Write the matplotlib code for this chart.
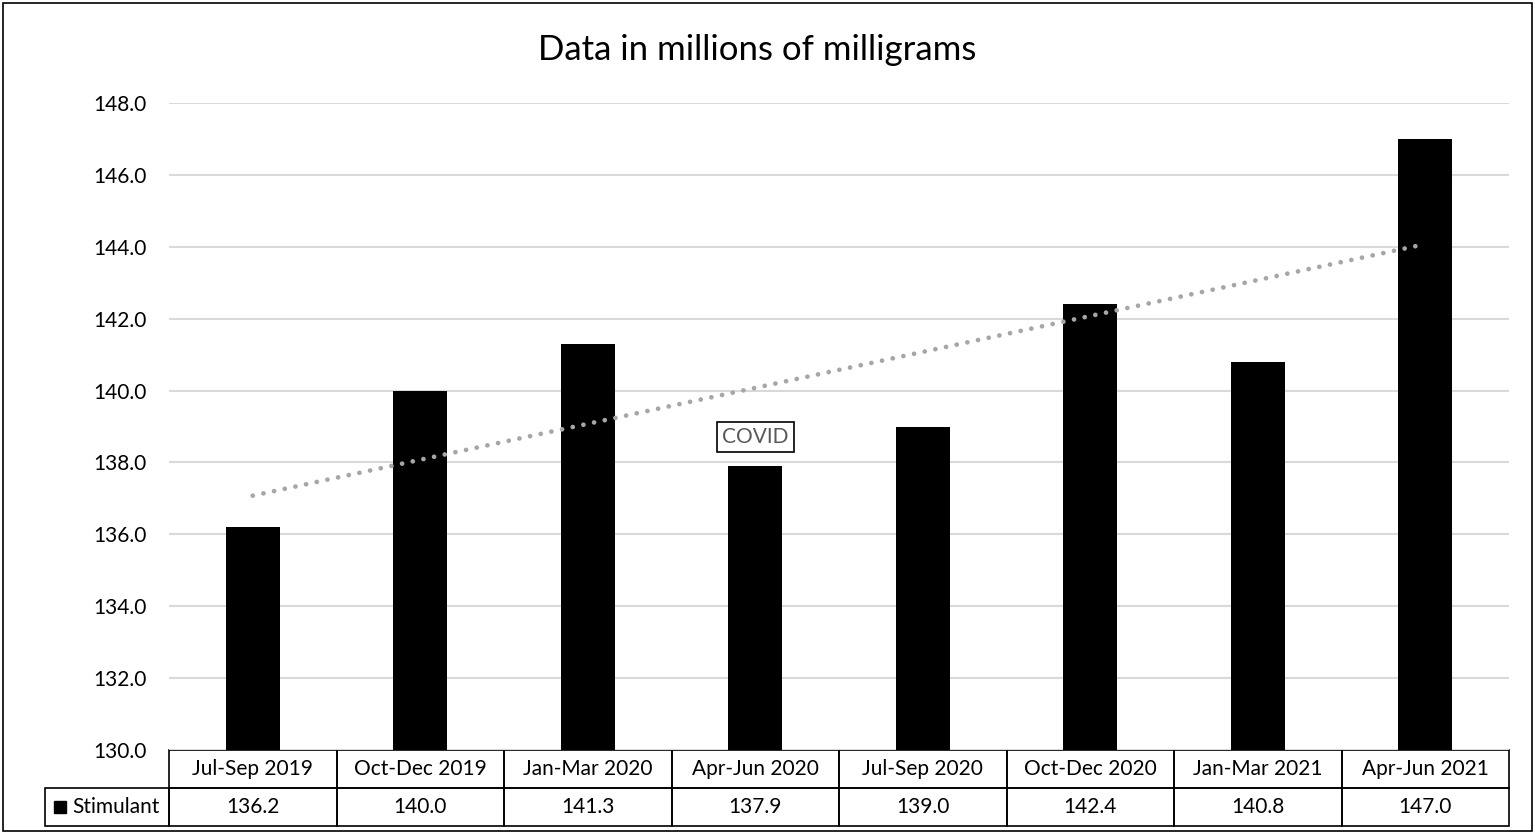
import numpy as np
import matplotlib.pyplot as plt
from matplotlib.patches import Rectangle

plt.rcParams['font.family'] = ['Lato', 'DejaVu Sans']

categories = ['Jul-Sep 2019', 'Oct-Dec 2019', 'Jan-Mar 2020', 'Apr-Jun 2020',
              'Jul-Sep 2020', 'Oct-Dec 2020', 'Jan-Mar 2021', 'Apr-Jun 2021']
stimulant = [136.2, 140.0, 141.3, 137.9, 139.0, 142.4, 140.8, 147.0]
series_name = 'Stimulant'
y_ticks = np.arange(130, 148.1, 2)

W, H = 1535, 838
fig = plt.figure(figsize=(W / 100, H / 100), dpi=100)
ax = fig.add_axes([169 / W, (H - 750) / H, (1509 - 169) / W, (750 - 103) / H])

x = np.arange(len(categories))
ax.bar(x, [v - 130 for v in stimulant], bottom=130, width=0.32, color='black', zorder=3)

# linear trendline
k, b = np.polyfit(x, stimulant, 1)
ax.plot(x, k * x + b, color='#a6a6a6', lw=3.4, linestyle=(0, (0.01, 2.3)),
        dash_capstyle='round', zorder=4)

ax.set_xlim(-0.5, len(categories) - 0.5)
ax.set_ylim(130, 148)
ax.set_yticks(y_ticks)
ax.set_yticklabels([f'{t:.1f}' for t in y_ticks], fontsize=15)
ax.set_xticks([])
ax.tick_params(axis='y', length=0, pad=16)
ax.yaxis.grid(True, color='#d9d9d9', lw=1.5, zorder=0)
for s in ax.spines.values():
    s.set_visible(False)

fig.text(757 / W, 1 - 50 / H, 'Data in millions of milligrams', fontsize=25,
         ha='center', va='center')

ax.text(3, 138.7, 'COVID', ha='center', va='center', fontsize=15, color='#595959',
        bbox=dict(boxstyle='square,pad=0.25', fc='white', ec='black', lw=1.2), zorder=5)

# data table under the axis
tr = ax.get_xaxis_transform()
row_h = 38 / 647
for i, cat in enumerate(categories):
    ax.add_patch(Rectangle((i - 0.5, -row_h), 1, row_h, transform=tr, fill=False,
                           ec='black', lw=1.2, clip_on=False))
    ax.add_patch(Rectangle((i - 0.5, -2 * row_h), 1, row_h, transform=tr, fill=False,
                           ec='black', lw=1.2, clip_on=False))
    ax.text(i, -row_h / 2, cat, transform=tr, ha='center', va='center', fontsize=15)
    ax.text(i, -1.5 * row_h, f'{stimulant[i]:.1f}', transform=tr, ha='center',
            va='center', fontsize=15)
lab_left = -0.5 - (169 - 45) / 167.5
ax.add_patch(Rectangle((lab_left, -2 * row_h), -0.5 - lab_left, row_h, transform=tr,
                       fill=False, ec='black', lw=1.2, clip_on=False))
ax.add_patch(Rectangle((lab_left + 0.054, -1.5 * row_h - 0.0095), 0.072, 0.019,
                       transform=tr, color='black', clip_on=False))
ax.text(lab_left + 0.16, -1.5 * row_h, series_name, transform=tr, ha='left',
        va='center', fontsize=15)

fig.patches.append(Rectangle((3 / W, 7 / H), (W - 6) / W, (H - 10) / H,
                             transform=fig.transFigure, fill=False, ec='black', lw=1.2))

fig.savefig('out.png', dpi=100)
